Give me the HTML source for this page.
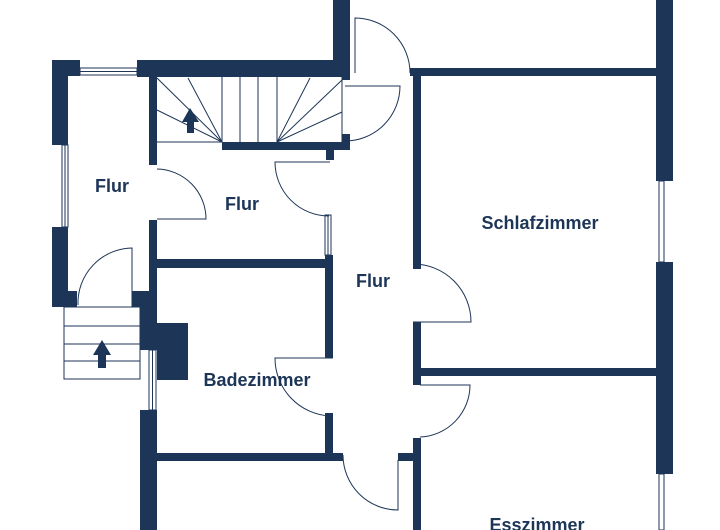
<!DOCTYPE html>
<html><head><meta charset="utf-8"><style>
html,body{margin:0;padding:0;background:#fff;}
svg{display:block;}
text{font-family:"Liberation Sans","DejaVu Sans",sans-serif;font-weight:bold;fill:#1d3557;font-size:18px;text-anchor:middle;}
</style></head><body>
<svg width="720" height="530" viewBox="0 0 720 530" xmlns="http://www.w3.org/2000/svg">
<g fill="#1d3557">
<rect x="52" y="60" width="16" height="85"/>
<rect x="52" y="60" width="28" height="16"/>
<rect x="52" y="227" width="16" height="80"/>
<rect x="52" y="291" width="25" height="16"/>
<rect x="137" y="60" width="213" height="17"/>
<rect x="333" y="0" width="17" height="77"/>
<rect x="342" y="70" width="8" height="10"/>
<rect x="149" y="77" width="8" height="88"/>
<rect x="222" y="142" width="128" height="8"/>
<rect x="342" y="134" width="8" height="16"/>
<rect x="326" y="150" width="8" height="10"/>
<rect x="149" y="220" width="8" height="87"/>
<rect x="132" y="291" width="25" height="16"/>
<rect x="140" y="291" width="17" height="59"/>
<rect x="157" y="323" width="31" height="57"/>
<rect x="140" y="410" width="17" height="120"/>
<rect x="149" y="259" width="184" height="9"/>
<rect x="325" y="255" width="8" height="103"/>
<rect x="325" y="413" width="8" height="47"/>
<rect x="149" y="453" width="194" height="8"/>
<rect x="398" y="453" width="15" height="8"/>
<rect x="413" y="68" width="8" height="201"/>
<rect x="413" y="322" width="8" height="63"/>
<rect x="413" y="438" width="8" height="92"/>
<rect x="410" y="68" width="263" height="8"/>
<rect x="420" y="368" width="236" height="8"/>
<rect x="656" y="0" width="17" height="181"/>
<rect x="656" y="262" width="17" height="212"/>
</g>
<g fill="none" stroke="#1d3557" stroke-width="1">
<rect x="80" y="68" width="57" height="7"/>
<line x1="80" y1="71.5" x2="137" y2="71.5"/>
<rect x="62" y="145" width="6" height="82"/>
<line x1="65" y1="145" x2="65" y2="227"/>
<rect x="149" y="350" width="7" height="60"/>
<line x1="152.5" y1="350" x2="152.5" y2="410"/>
<rect x="325" y="215" width="6" height="40"/>
<line x1="328" y1="215" x2="328" y2="255"/>
<rect x="659" y="181" width="5" height="81"/>
<rect x="659" y="474" width="5" height="56"/>
<line x1="157" y1="142" x2="222" y2="142"/>
<line x1="222" y1="77" x2="222" y2="142"/>
<line x1="240" y1="77" x2="240" y2="142"/>
<line x1="258" y1="77" x2="258" y2="142"/>
<line x1="277" y1="77" x2="277" y2="142"/>
<line x1="222" y1="142" x2="157" y2="110"/>
<line x1="222" y1="142" x2="157" y2="78"/>
<line x1="222" y1="142" x2="188" y2="78"/>
<line x1="277" y1="142" x2="342" y2="112"/>
<line x1="277" y1="142" x2="342" y2="80"/>
<line x1="277" y1="142" x2="310" y2="78"/>
<line x1="342" y1="77" x2="342" y2="142"/>
<rect x="64" y="307" width="76" height="72"/>
<line x1="64" y1="326" x2="140" y2="326"/>
<line x1="64" y1="344" x2="140" y2="344"/>
<line x1="64" y1="361" x2="140" y2="361"/>
<path d="M355 73 L355 18 A55 55 0 0 1 410 73"/>
<path d="M345 86 L400 86 A55 55 0 0 1 345 141"/>
<path d="M157 219 L206 219 A50 50 0 0 0 157 169"/>
<path d="M330 162 L275 162 A54 54 0 0 0 329 216"/>
<path d="M132 307 L132 248 A55 55 0 0 0 78 305"/>
<path d="M333 358 L275 358 A58 58 0 0 0 330 416"/>
<path d="M413 322 L471 322 A58 58 0 0 0 413 264"/>
<path d="M420 385 L470 385 A52 52 0 0 1 420 437"/>
<path d="M398 460 L398 510 A55 55 0 0 1 343 455"/>
</g>
<g fill="#1d3557">
<polygon points="190,108 182,122 187,122 187,133 194,133 194,122 199,122"/>
<polygon points="102,340 93,355 98,355 98,368 106,368 106,355 111,355"/>
</g>
<text x="112" y="192">Flur</text>
<text x="242" y="210">Flur</text>
<text x="373" y="287">Flur</text>
<text x="540" y="229">Schlafzimmer</text>
<text x="257" y="386">Badezimmer</text>
<text x="537" y="531">Esszimmer</text>
</svg>
</body></html>
